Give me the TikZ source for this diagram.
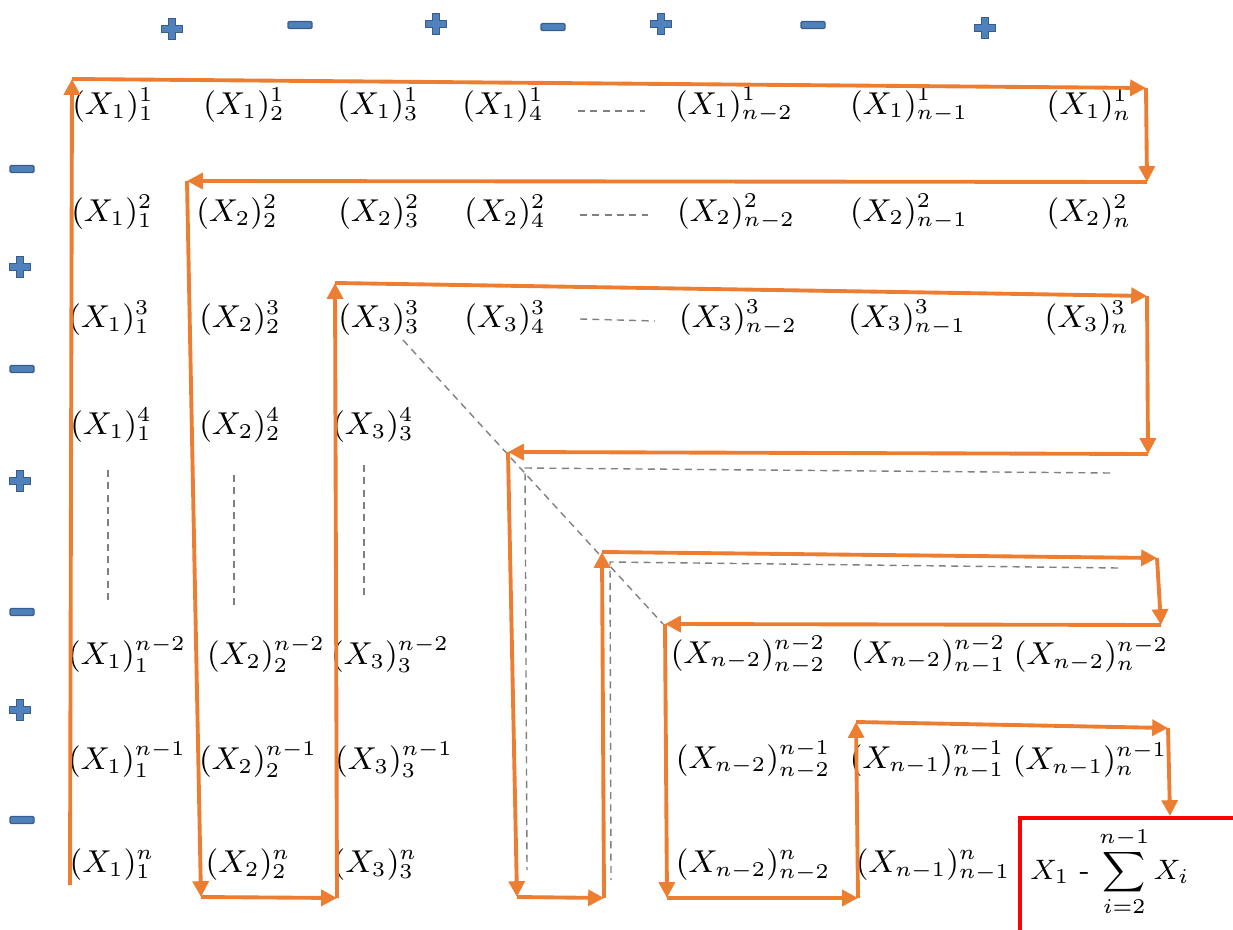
\documentclass[tikz,border=0pt]{standalone}
\usepackage{tikz}
\usepackage{amsmath}
\usetikzlibrary{arrows.meta}
\definecolor{pathorange}{RGB}{237,125,49}
\definecolor{signfill}{RGB}{79,129,189}
\definecolor{signline}{RGB}{56,93,138}
\definecolor{dotgray}{RGB}{128,128,128}
\tikzstyle{arrow} = [line width=1.1pt, draw=pathorange,
    -{Triangle[length=4.5pt,width=4.5pt]}]
\tikzstyle{entry} = [font=\fontsize{8.6}{10}\selectfont, inner sep=0pt]
\tikzstyle{dots} = [draw=dotgray, line width=0.4pt,
    dash pattern=on 2pt off 1.5pt]
\tikzstyle{signshape} = [fill=signfill, draw=signline, line width=0.4pt]
\tikzstyle{total} = [draw=red, line width=1.2pt]
\tikzset{
    plussign/.pic={
        \path[signshape] (-0.035,0.105) -- (0.035,0.105) -- (0.035,0.035)
            -- (0.105,0.035) -- (0.105,-0.035) -- (0.035,-0.035)
            -- (0.035,-0.105) -- (-0.035,-0.105) -- (-0.035,-0.035)
            -- (-0.105,-0.035) -- (-0.105,0.035) -- (-0.035,0.035) -- cycle;
    },
    minussign/.pic={
        \path[signshape, rounded corners=0.4pt] (-0.12,-0.035) rectangle (0.12,0.035);
    }
}

\begin{document}
\begin{tikzpicture}
\useasboundingbox (0,0) rectangle (12.33,-9.30);

% signs
\pic at (1.72,-0.29) {plussign};
\pic at (3.00,-0.25) {minussign};
\pic at (4.36,-0.24) {plussign};
\pic at (5.53,-0.27) {minussign};
\pic at (6.61,-0.24) {plussign};
\pic at (8.13,-0.25) {minussign};
\pic at (9.85,-0.28) {plussign};
\pic at (0.22,-1.69) {minussign};
\pic at (0.20,-2.67) {plussign};
\pic at (0.22,-3.69) {minussign};
\pic at (0.20,-4.81) {plussign};
\pic at (0.22,-6.12) {minussign};
\pic at (0.20,-7.10) {plussign};
\pic at (0.22,-8.20) {minussign};

% entries
\node (r1c1) [entry] at (1.13,-1.05) {$(X_1)_1^1$};
\node (r1c2) [entry] at (2.44,-1.05) {$(X_1)_2^1$};
\node (r1c3) [entry] at (3.78,-1.05) {$(X_1)_3^1$};
\node (r1c4) [entry] at (5.03,-1.05) {$(X_1)_4^1$};
\node (r1cA) [entry] at (7.34,-1.05) {$(X_1)_{n-2}^1$};
\node (r1cB) [entry] at (9.09,-1.05) {$(X_1)_{n-1}^1$};
\node (r1cC) [entry] at (10.89,-1.05) {$(X_1)_n^1$};

\node (r2c1) [entry] at (1.12,-2.12) {$(X_1)_1^2$};
\node (r2c2) [entry] at (2.37,-2.12) {$(X_2)_2^2$};
\node (r2c3) [entry] at (3.79,-2.12) {$(X_2)_3^2$};
\node (r2c4) [entry] at (5.05,-2.12) {$(X_2)_4^2$};
\node (r2cA) [entry] at (7.36,-2.12) {$(X_2)_{n-2}^2$};
\node (r2cB) [entry] at (9.09,-2.12) {$(X_2)_{n-1}^2$};
\node (r2cC) [entry] at (10.89,-2.12) {$(X_2)_n^2$};

\node (r3c1) [entry] at (1.09,-3.18) {$(X_1)_1^3$};
\node (r3c2) [entry] at (2.40,-3.18) {$(X_2)_2^3$};
\node (r3c3) [entry] at (3.79,-3.18) {$(X_3)_3^3$};
\node (r3c4) [entry] at (5.05,-3.18) {$(X_3)_4^3$};
\node (r3cA) [entry] at (7.38,-3.18) {$(X_3)_{n-2}^3$};
\node (r3cB) [entry] at (9.07,-3.18) {$(X_3)_{n-1}^3$};
\node (r3cC) [entry] at (10.87,-3.18) {$(X_3)_n^3$};

\node (r4c1) [entry] at (1.11,-4.25) {$(X_1)_1^4$};
\node (r4c2) [entry] at (2.40,-4.25) {$(X_2)_2^4$};
\node (r4c3) [entry] at (3.73,-4.25) {$(X_3)_3^4$};

\node (rAc1) [entry] at (1.27,-6.55) {$(X_1)_1^{n-2}$};
\node (rAc2) [entry] at (2.66,-6.55) {$(X_2)_2^{n-2}$};
\node (rAc3) [entry] at (3.90,-6.55) {$(X_3)_3^{n-2}$};
\node (rAcA) [entry] at (7.48,-6.55) {$(X_{n-2})_{n-2}^{n-2}$};
\node (rAcB) [entry] at (9.28,-6.55) {$(X_{n-2})_{n-1}^{n-2}$};
\node (rAcC) [entry] at (10.91,-6.55) {$(X_{n-2})_n^{n-2}$};

\node (rBc1) [entry] at (1.27,-7.60) {$(X_1)_1^{n-1}$};
\node (rBc2) [entry] at (2.58,-7.60) {$(X_2)_2^{n-1}$};
\node (rBc3) [entry] at (3.94,-7.60) {$(X_3)_3^{n-1}$};
\node (rBcA) [entry] at (7.53,-7.60) {$(X_{n-2})_{n-2}^{n-1}$};
\node (rBcB) [entry] at (9.27,-7.60) {$(X_{n-1})_{n-1}^{n-1}$};
\node (rBcC) [entry] at (10.90,-7.60) {$(X_{n-1})_n^{n-1}$};

\node (rCc1) [entry] at (1.12,-8.65) {$(X_1)_1^n$};
\node (rCc2) [entry] at (2.48,-8.65) {$(X_2)_2^n$};
\node (rCc3) [entry] at (3.75,-8.65) {$(X_3)_3^n$};
\node (rCcA) [entry] at (7.53,-8.65) {$(X_{n-2})_{n-2}^n$};
\node (rCcB) [entry] at (9.33,-8.65) {$(X_{n-1})_{n-1}^n$};

\node (total) [font=\footnotesize] at (11.10,-8.72) {$X_{1}$ - $\displaystyle\sum_{i=2}^{n-1}X_{i}$};

% corners of the path
\coordinate (p0) at (0.70,-8.85);
\coordinate (p1) at (0.72,-0.79);
\coordinate (p2) at (11.46,-0.88);
\coordinate (p3) at (11.47,-1.82);
\coordinate (p4) at (1.87,-1.81);
\coordinate (p5) at (2.01,-8.97);
\coordinate (p6) at (3.37,-8.98);
\coordinate (p7) at (3.35,-2.83);
\coordinate (p8) at (11.47,-2.96);
\coordinate (p9) at (11.48,-4.54);
\coordinate (p10) at (5.08,-4.52);
\coordinate (p11) at (5.17,-8.97);
\coordinate (p12) at (6.04,-8.98);
\coordinate (p13) at (6.02,-5.52);
\coordinate (p14) at (11.57,-5.58);
\coordinate (p15) at (11.61,-6.25);
\coordinate (p16) at (6.65,-6.24);
\coordinate (p17) at (6.67,-8.98);
\coordinate (p18) at (8.58,-8.98);
\coordinate (p19) at (8.56,-7.22);
\coordinate (p20) at (11.68,-7.28);
\coordinate (p21) at (11.70,-8.16);

% ends of the dotted parts
\coordinate (h1a) at (5.78,-1.11);
\coordinate (h1b) at (6.45,-1.11);
\coordinate (h2a) at (5.80,-2.15);
\coordinate (h2b) at (6.48,-2.15);
\coordinate (h3a) at (5.80,-3.19);
\coordinate (h3b) at (6.55,-3.21);
\coordinate (v1a) at (1.08,-4.70);
\coordinate (v1b) at (1.08,-6.05);
\coordinate (v2a) at (2.34,-4.75);
\coordinate (v2b) at (2.34,-6.08);
\coordinate (v3a) at (3.64,-4.65);
\coordinate (v3b) at (3.64,-6.00);
\coordinate (dg1) at (4.03,-3.40);
\coordinate (dg2) at (6.63,-6.24);
\coordinate (l1) at (5.25,-4.68);
\coordinate (l1r) at (11.10,-4.73);
\coordinate (l1b) at (5.27,-8.70);
\coordinate (l2) at (6.10,-5.62);
\coordinate (l2r) at (11.18,-5.68);
\coordinate (l2b) at (6.11,-8.80);

% corner of the result box
\coordinate (rb1) at (10.20,-9.40);
\coordinate (rb2) at (10.20,-8.18);
\coordinate (rb3) at (12.43,-8.18);

\draw [dots] (h1a) -- (h1b);
\draw [dots] (h2a) -- (h2b);
\draw [dots] (h3a) -- (h3b);
\draw [dots] (v1a) -- (v1b);
\draw [dots] (v2a) -- (v2b);
\draw [dots] (v3a) -- (v3b);
\draw [dots] (dg1) -- (dg2);
\draw [dots] (l1r) -- (l1) -- (l1b);
\draw [dots] (l2r) -- (l2) -- (l2b);

\draw [arrow] (p0) -- (p1);
\draw [arrow] (p1) -- (p2);
\draw [arrow] (p2) -- (p3);
\draw [arrow] (p3) -- (p4);
\draw [arrow] (p4) -- (p5);
\draw [arrow] (p5) -- (p6);
\draw [arrow] (p6) -- (p7);
\draw [arrow] (p7) -- (p8);
\draw [arrow] (p8) -- (p9);
\draw [arrow] (p9) -- (p10);
\draw [arrow] (p10) -- (p11);
\draw [arrow] (p11) -- (p12);
\draw [arrow] (p12) -- (p13);
\draw [arrow] (p13) -- (p14);
\draw [arrow] (p14) -- (p15);
\draw [arrow] (p15) -- (p16);
\draw [arrow] (p16) -- (p17);
\draw [arrow] (p17) -- (p18);
\draw [arrow] (p18) -- (p19);
\draw [arrow] (p19) -- (p20);
\draw [arrow] (p20) -- (p21);

\draw [total] (rb1) -- (rb2) -- (rb3);

\end{tikzpicture}
\end{document}
